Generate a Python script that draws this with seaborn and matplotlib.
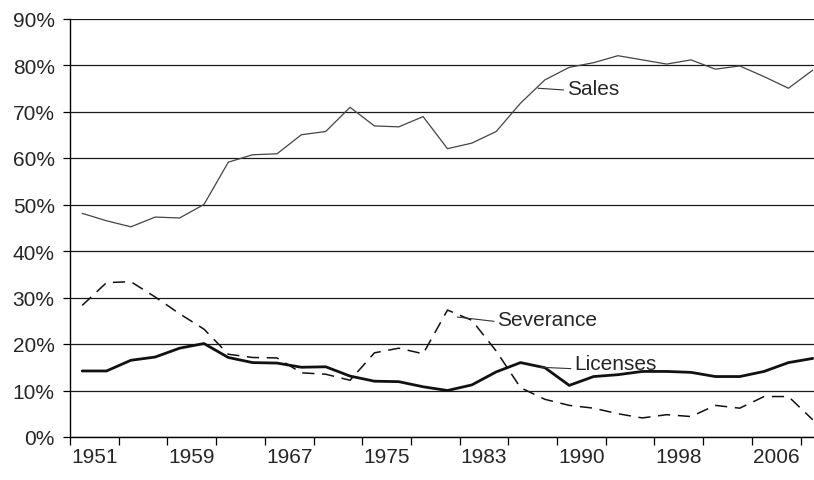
import matplotlib
matplotlib.use('Agg')
from matplotlib import pyplot as plt
import seaborn as sns
import pandas as pd
import numpy as np

# %% Data (share of tax revenue, %)
years = [1951, 1953, 1955, 1957, 1959, 1961, 1963, 1965, 1967, 1969,
         1971, 1973, 1975, 1977, 1979, 1981, 1983, 1985, 1987, 1988,
         1990, 1992, 1994, 1996, 1998, 2000, 2002, 2004, 2006, 2008, 2010]
sales = [48.1, 46.5, 45.2, 47.3, 47.1, 50.0, 59.1, 60.7, 60.9, 65.0,
         65.7, 70.9, 66.9, 66.7, 68.9, 62.0, 63.2, 65.7, 71.8, 76.8,
         79.5, 80.5, 82.0, 81.1, 80.2, 81.1, 79.1, 79.8, 77.5, 75.0, 78.9]
severance = [28.3, 33.2, 33.4, 30.1, 26.5, 23.2, 17.8, 17.1, 17.0, 13.8,
             13.5, 12.2, 18.1, 19.1, 17.9, 27.3, 25.1, 18.5, 10.6, 8.1,
             6.8, 6.2, 5.0, 4.1, 4.8, 4.4, 6.8, 6.2, 8.7, 8.7, 3.7]
licenses = [14.2, 14.2, 16.5, 17.2, 19.1, 20.1, 17.1, 16.0, 15.9, 15.0,
            15.1, 13.1, 12.0, 11.9, 10.8, 10.0, 11.2, 14.0, 16.0, 14.9,
            11.1, 13.0, 13.4, 14.1, 14.1, 13.9, 13.0, 13.0, 14.1, 16.0, 16.9]
tick_years = ["1951", "1959", "1967", "1975", "1983", "1990", "1998", "2006"]
y_ticks = [0, 10, 20, 30, 40, 50, 60, 70, 80, 90]

df = pd.DataFrame({"idx": np.arange(len(years)), "year": years,
                   "Sales": sales, "Severance": severance, "Licenses": licenses})

# %% Plot
sns.set_style("white")
plt.rcParams['font.family'] = ['Liberation Sans', 'DejaVu Sans']

fig = plt.figure(figsize=(8.14, 4.81), dpi=100)
ax = fig.add_axes([70/814, 43/481, 744/814, 418.5/481])

ax.set_ylim(0, 90)
ax.set_xlim(-0.5, 30.05)
ax.set_yticks(y_ticks)
ax.set_yticklabels([f"{v}%" for v in y_ticks])
ax.yaxis.grid(True, color="#1a1a1a", linewidth=0.9)
ax.set_axisbelow(True)

sns.lineplot(data=df, x="idx", y="Sales", ax=ax, color="#444444",
             linewidth=0.9)
sns.lineplot(data=df, x="idx", y="Severance", ax=ax, color="#111111",
             linewidth=1.1)
ax.lines[-1].set_dashes((8, 5))
sns.lineplot(data=df, x="idx", y="Licenses", ax=ax, color="#111111",
             linewidth=2.0)

# x axis: tick marks between category pairs, labels every 4 categories
ax.set_xticks(np.arange(-0.5, len(years), 2))
ax.set_xticklabels([])
lab_pos = [years.index(int(y)) + 0.5 for y in tick_years]
ax.set_xticks(lab_pos, minor=True)
ax.set_xticklabels(tick_years, minor=True)
ax.tick_params(axis="x", which="major", direction="out", length=6,
               width=0.9, color="black", bottom=True)
ax.tick_params(axis="x", which="minor", length=0, pad=7, labelsize=15)
ax.tick_params(axis="y", direction="out", length=5, width=0.9,
               color="black", pad=6, labelsize=15, left=True)
ax.set_xlabel("")
ax.set_ylabel("")

for s in ["top", "right"]:
    ax.spines[s].set_visible(False)
for s in ["left", "bottom"]:
    ax.spines[s].set_color("black")
    ax.spines[s].set_linewidth(1.0)

# series labels with leader lines
lp = dict(arrowstyle="-", color="#333333", linewidth=0.8,
          shrinkA=0, shrinkB=0)
ax.annotate("Sales", xy=(18.72, 75.0), xytext=(19.9, 75.0),
            ha="left", va="center", fontsize=15,
            arrowprops=dict(lp, relpos=(0, 0.4)))
ax.annotate("Severance", xy=(15.4, 25.8), xytext=(17.05, 25.2),
            ha="left", va="center", fontsize=15,
            arrowprops=dict(lp, relpos=(0, 0.4)))
ax.annotate("Licenses", xy=(18.8, 15.0), xytext=(20.2, 15.9),
            ha="left", va="center", fontsize=15,
            arrowprops=dict(lp, relpos=(0, 0.2)))

plt.savefig("out.png", dpi=100)
plt.close()
